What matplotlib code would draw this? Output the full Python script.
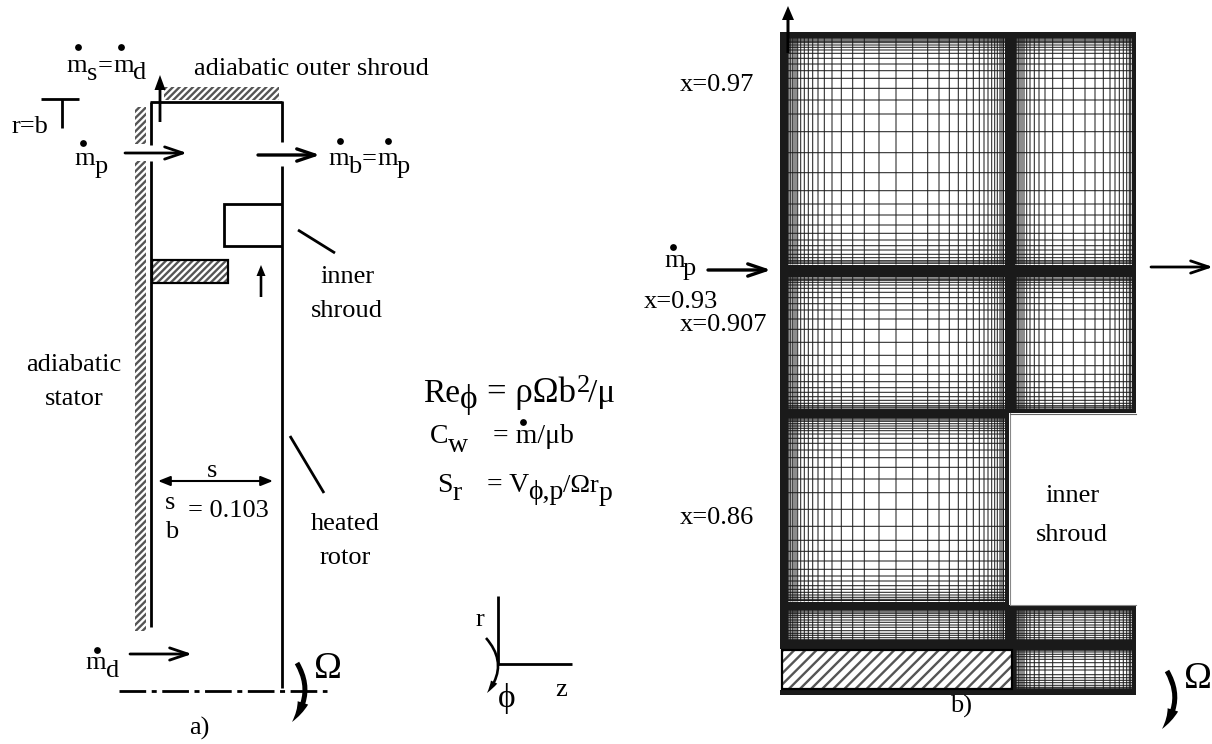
import matplotlib
matplotlib.use("Agg")
import matplotlib.pyplot as plt
from matplotlib.patches import Rectangle, FancyArrowPatch

plt.rcParams['font.family'] = ['Liberation Serif', 'DejaVu Serif']
plt.rcParams['hatch.linewidth'] = 1.7

# mesh lines (pixel positions)
cols_left = [788,789,790.7,792.3,794,796,797.7,800.7,804.3,808.3,812.7,818,824.3,832,841.3,852.7,864.3,879,896,912.7,927.7,939,949.3,958.3,966.7,973.3,979.3,984,988,991.7,994.7,997.3,1000,1002,1003.5]
cols_right = [1015.5,1016.7,1018.3,1020,1022,1024,1026.7,1030,1034.3,1039,1045,1052.7,1062.7,1073.3,1085,1095,1103.3,1110,1115,1119.3,1123.3,1126.7,1129.3,1130.7]
rows_a = [38.7,40,41.3,42.7,45,47.3,50,53.3,58.3,64,70.7,78.3,88.3,100,114,131.7,152.7,172.7,190.7,204,215,225,233.3,240,245.7,250,254.3,257.7,260.7,262,263.3]
rows_b = [276.5,278,279.3,280.3,282.3,285,288.3,292.3,297.7,303.7,310,319,329.3,342.3,355.3,365.7,374.3,381.7,387.7,392.3,396.7,400.3,403.3,405.7,407,408]
rows_c = [418.7,420,421.3,423.7,426,428.3,430.7,434,438.3,443.3,450,457.7,467.3,479,492.7,509.3,526.3,540.3,551.3,561,569.3,576,581,585.7,589.3,592.3,595,597.3,599.3,600.5]
rows_d = [610.7,612,613.3,615.3,617.3,620,622.3,625,627.3,630.7,633.3,635.3,637.7,639.7,640.5]
rows_e = [650.7,652,654.3,656.7,659.3,662.7,666.7,670,674.7,677.7,680.3,682.7,685.3,687.3,688.3]

band_color = '#1a1a1a'
line_color = '#1a1a1a'

fig = plt.figure(figsize=(12.12, 7.44), dpi=100)
ax = fig.add_axes([0, 0, 1, 1])
ax.set_xlim(0, 1212)
ax.set_ylim(744, 0)
ax.axis('off')


def T(x, y, s, size=19, ha='left'):
    ax.text(x, y, s, fontsize=size, ha=ha, va='baseline', color='black')


def L(xs, ys, lw=2.0):
    ax.plot(xs, ys, color='black', lw=lw, solid_capstyle='butt', solid_joinstyle='miter')


def A(p0, p1, lw=2.0):
    ax.add_patch(FancyArrowPatch(p0, p1, arrowstyle='->,head_length=0.65,head_width=0.22', lw=lw,
                                 color='black', mutation_scale=20, shrinkA=0, shrinkB=0, zorder=6))


def S(p0, p1, hl, hw, tw, rad=0.0):
    # solid arrow, sizes in pixels
    style = f'simple,head_length={hl * 0.72},head_width={hw * 0.72},tail_width={tw * 0.72}'
    ax.add_patch(FancyArrowPatch(p0, p1, arrowstyle=style, lw=0, color='black', mutation_scale=1,
                                 shrinkA=0, shrinkB=0, connectionstyle=f'arc3,rad={rad}', zorder=6))


def hatchbox(x0, y0, x1, y1, color='#3a3a3a', hatch='/////', edge=None, lw=1.5):
    ax.add_patch(Rectangle((x0, y0), x1 - x0, y1 - y0, facecolor='white', hatch=hatch,
                           edgecolor=color, lw=0, zorder=2))
    if edge:
        ax.add_patch(Rectangle((x0, y0), x1 - x0, y1 - y0, fill=False, edgecolor=edge, lw=lw, zorder=3))


def dots(pts):
    ax.scatter([p[0] for p in pts], [p[1] for p in pts], s=24, color='black', lw=0, zorder=6)


# ---------- panel a ----------
hatchbox(135, 107, 146, 144, color='#555555')
hatchbox(135, 161, 146, 631, color='#555555')
hatchbox(164, 87, 279, 100, color='#555555')
hatchbox(152, 260, 228, 283, color='#555555', edge='black', lw=1.6)
L([151, 151], [145, 102.0])
L([151, 151], [161, 627])
L([150, 282], [102, 102])
L([282, 282], [101, 142])
L([282, 282], [166, 688])
L([282, 223.5, 223.5, 282], [203.5, 203.5, 246, 246])
L([41, 79], [99, 99])
L([62, 62], [99, 128])
L([298, 335], [230, 253])
L([290, 324], [436, 493])
ax.plot([119, 327], [691, 691], color='black', lw=2.0, dashes=(9.6, 2, 1.8, 2), dash_capstyle='butt')

A((125, 153), (187, 153))
A((258, 155), (320, 155), lw=2.4)
A((130, 654), (192, 654))
S((160, 122), (160, 75), 15, 11, 2.8)
S((261, 297), (261, 265), 11, 9, 2.6)
ax.add_patch(FancyArrowPatch((158, 481), (273, 481), arrowstyle='<|-|>,head_length=0.45,head_width=0.18',
                             lw=1.5, color='black', mutation_scale=16, shrinkA=0, shrinkB=0, zorder=6))
S((297, 663), (292, 722), 22, 11, 5, rad=-0.35)

T(194, 75, 'adiabatic outer shroud')
T(66, 72, 'm'); T(87, 80, 's'); T(98, 72, '='); T(113, 72, 'm'); T(133, 79, 'd')
T(12, 133, 'r=b')
T(74, 165, 'm'); T(95, 173, 'p')
T(328, 165, 'm'); T(348, 173, 'b'); T(362, 165, '='); T(377, 165, 'm'); T(397, 173, 'p')
T(347, 283, 'inner', ha='center'); T(347, 317, 'shroud', ha='center')
T(26, 371, 'adiabatic'); T(45, 405, 'stator')
T(207, 477, 's'); T(165, 509, 's'); T(165, 538, 'b'); T(188, 517, '= 0.103')
T(311, 530, 'heated'); T(320, 564, 'rotor')
T(85, 669, 'm'); T(106, 677, 'd')
T(189, 735, 'a)')
T(314, 678, '\u03a9', size=27)
dots([(78, 47), (121, 47), (83, 143), (340, 141), (388, 141), (97, 650)])

# ---------- equations ----------
T(423, 402, 'Re', size=24); T(460, 408, '\u03d5', size=24)
T(487, 402, '= \u03c1\u03a9b', size=25); T(577, 392, '2', size=19); T(588, 402, '/\u03bc', size=24)
T(430, 443, 'C', size=20); T(448, 452, 'w', size=20)
T(493, 443, '= m/\u03bcb', size=20)
T(437, 492, 'S', size=20); T(452, 500, 'r', size=20)
T(487, 492, '= V', size=20); T(528, 499, '\u03d5,p', size=20); T(563, 492, '/\u03a9r', size=19); T(599, 500, 'p', size=20)
dots([(523, 422)])

# ---------- coordinate axes ----------
L([498, 498], [596, 665])
L([497, 572], [664, 664])
S((486, 638), (487, 693), 13, 7, 2.6, rad=-0.42)
T(476, 626, 'r'); T(555, 696, 'z'); T(498, 707, '\u03d5', size=24)

# ---------- panel b: mesh ----------
def band(x0, y0, x1, y1):
    ax.add_patch(Rectangle((x0, y0), x1 - x0, y1 - y0, facecolor=band_color, lw=0, zorder=1))


band(780, 32, 1136, 38)          # top
band(780, 32, 787.5, 695)        # left
band(1131.5, 32, 1136, 413)
band(1131.5, 605, 1136, 695)
band(1004.5, 32, 1015, 413)
band(1004.5, 413, 1009, 650)
band(1004.5, 605, 1015, 695)
band(780, 264.5, 1136, 276)
band(780, 409, 1004.5, 418)
band(1015, 409, 1136, 413)
band(780, 601.5, 1004.5, 610)
band(1009, 605, 1136, 610)
band(780, 641, 1136, 649.5)
band(780, 689, 1136, 695)

lk = dict(color=line_color, lw=0.72, zorder=1, snap=False)
for rows, ys, xs_l, xs_r in [
    (rows_a, (38, 264.5), True, True),
    (rows_b, (276, 409), True, True),
    (rows_c, (418, 601.5), True, False),
    (rows_d, (610, 641), True, True),
    (rows_e, (650, 689), False, True),
]:
    if xs_l:
        ax.vlines(cols_left, ys[0], ys[1], **lk)
        ax.hlines(rows, 787, 1005, **lk)
    if xs_r:
        ax.vlines(cols_right, ys[0], ys[1], **lk)
        ax.hlines(rows, 1015, 1132, **lk)

# inner shroud edge
ax.plot([1009.5, 1009.5, 1136], [413, 605, 605], color='#888888', lw=0.8, zorder=2)
ax.plot([1009.5, 1136], [413.5, 413.5], color='#666666', lw=0.8, zorder=2)

# hatched block
ax.add_patch(Rectangle((780, 649), 233, 41, facecolor='white', lw=0, zorder=2))
hatchbox(781.5, 650, 1011.5, 688.5, color='#555555', hatch='///', edge='black', lw=1.6)

S((788, 53), (788, 6), 14, 12, 3)
A((708, 270), (771, 270), lw=2.4)
A((1151, 267), (1213, 267), lw=2.0)
S((1167, 671), (1162, 729), 22, 11, 5, rad=-0.35)

T(680, 91, 'x=0.97')
T(644, 308, 'x=0.93'); T(680, 331, 'x=0.907')
T(680, 524, 'x=0.86')
T(664, 267, 'm'); T(683, 275, 'p')
dots([(673, 247)])
T(1072, 502, 'inner', ha='center'); T(1072, 541, 'shroud', ha='center')
T(950, 713, 'b)')
T(1184, 688, '\u03a9', size=27)

fig.savefig('out.png', dpi=100)
